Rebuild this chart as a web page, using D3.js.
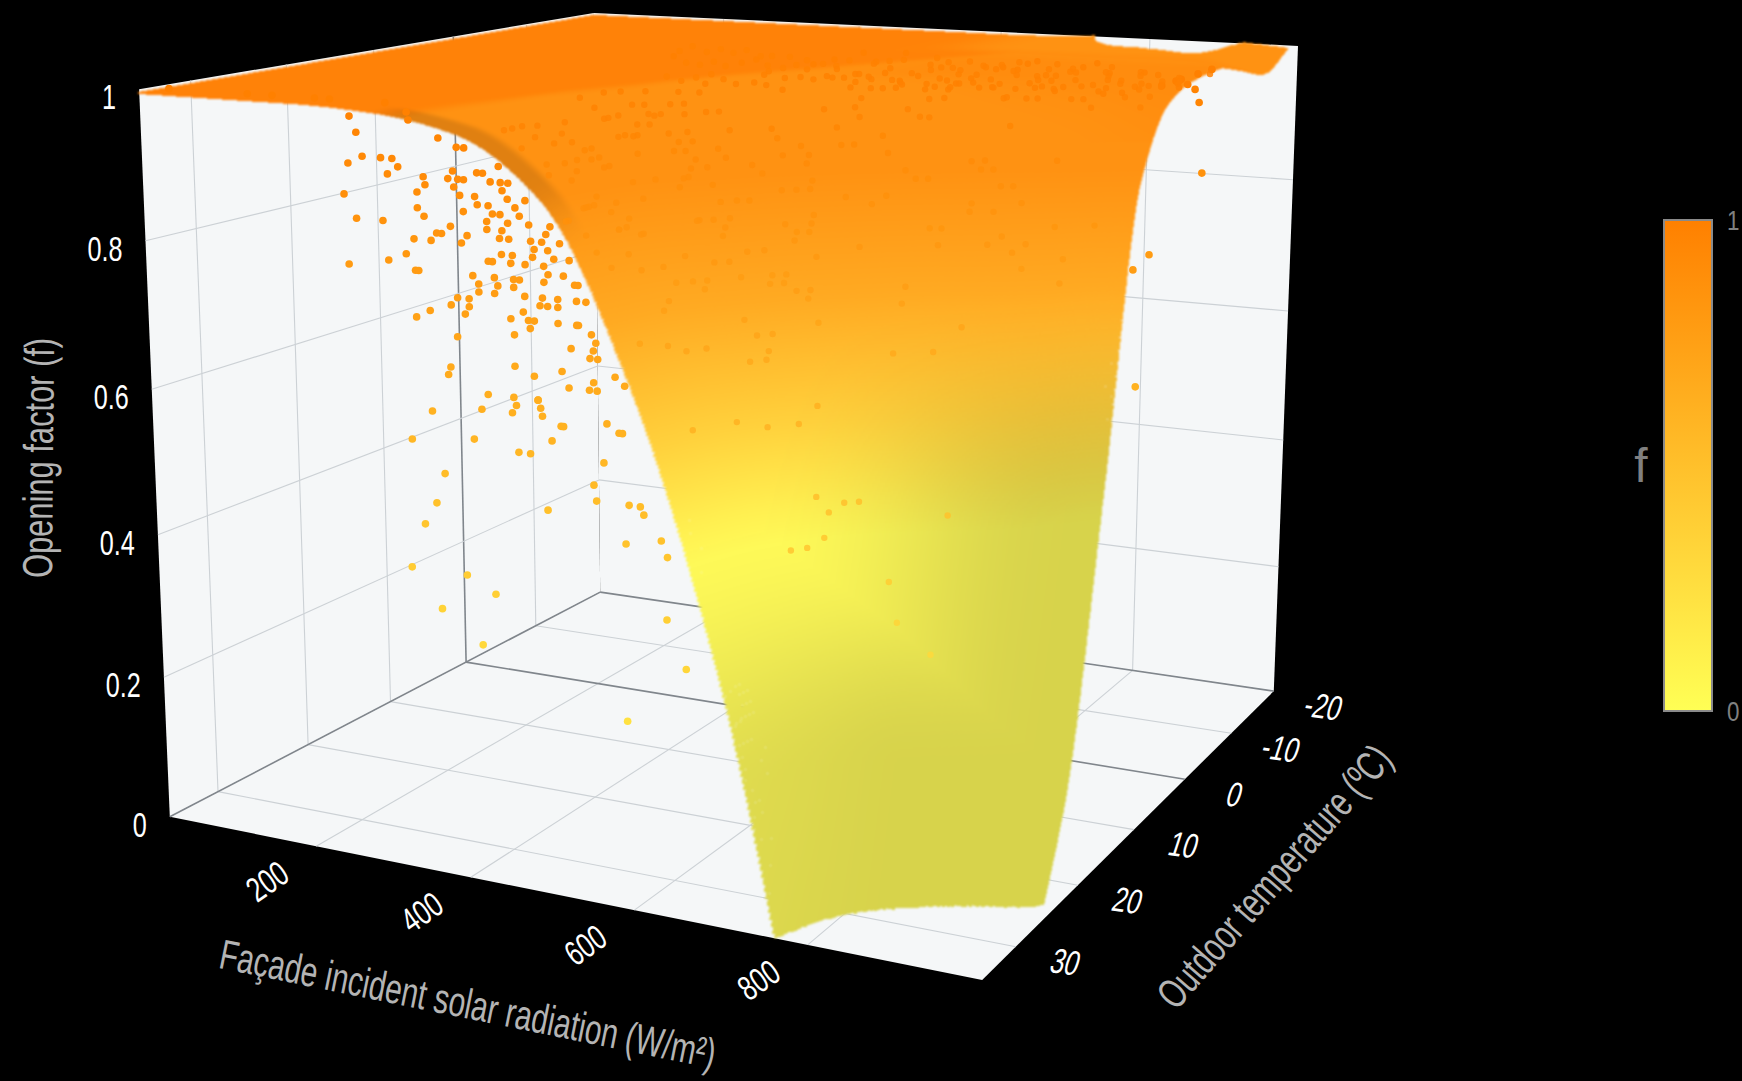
<!DOCTYPE html>
<html><head><meta charset="utf-8">
<style>html,body{margin:0;background:#000;overflow:hidden}svg{display:block}text{font-family:"Liberation Sans",sans-serif}</style>
<script src="https://cdn.jsdelivr.net/npm/d3@7"></script></head><body>
<svg id="c" width="1742" height="1081"></svg>
<script>
const radTicks=[200,400,600,800], tempTicks=[-20,-10,0,10,20,30], fTicks=[0,0.2,0.4,0.6,0.8,1];
const gridRad=[0,100,200,300,400,500,600,700,800,900,975];
const gridTemp=[-20,-15,-10,-5,0,5,10,15,20,25,30,35];
const gridF=[
[.995,.995,.995,.995,.995,.995,.995,.997,1.012,1.002,.995],
[.995,.995,.995,.995,.995,.995,.995,.995,1.002,1.003,.97],
[.995,.995,.995,.995,.995,.995,.995,.995,.995,.998,.985],
[.995,.995,.995,.995,.995,.995,.995,.995,.995,.995,.999],
[.995,.995,.995,.995,.995,.995,.995,.995,.995,.995,.995],
[.995,.995,.995,.995,.995,.995,.995,.995,.995,.99,.975],
[.995,.995,.995,.995,.995,.995,.995,.995,.975,.945,.88],
[.995,.995,.995,.995,.995,.995,.985,.955,.90,.78,.50],
[.995,.995,.995,.995,.995,.985,.945,.86,.69,.46,.14],
[.995,.995,.995,.995,.993,.955,.86,.655,.355,.08,-.06],
[.995,.995,.995,.995,.985,.92,.735,.44,.01,-.33,-.5],
[.995,.995,.995,.99,.97,.895,.675,.32,-.21,-.75,-.95]];
// measured points below the surface, at outdoor temperature 34: [radiation, f]
const lowDots=[[258,.98],[266,.96],[255,.92],[273,.93],[296,.93],[310,.93],[317,.92],[304,.91],[249,.88],[264,.85],[297,.85],[253,.79],[303,.80],[325,.81],[336,.79],[340,.79],[335,.83],[356,.83],[363,.84],[369,.84],[380,.85],[348,.86],
[340,.87],[340,.89],[350,.90],[348,.91],[367,.96],[331,.98],[389,.95],[398,.95],[384,.92],[378,.91],[385,.90],[390,.91],[397,.91],[413,.92],[420,.92],[439,.93],[450,.91],[441,.91],[429,.91],[443,.90],[449,.89],[410,.89],
[413,.88],[396,.87],[392,.89],[426,.88],[431,.87],[440,.87],[449,.86],[458,.88],[470,.89],[463,.87],[474,.86],[424,.86],[424,.85],[442,.85],[439,.84],[450,.84],[441,.82],[454,.82],[393,.83],[400,.84],[425,.81],[430,.81],
[452,.81],[432,.79],[455,.79],[406,.79],[413,.78],[413,.77],[432,.77],[436,.78],[455,.78],[462,.79],[468,.77],[466,.75],[469,.81],[478,.82],[491,.81],[476,.84],[489,.84],[494,.85],[480,.83],[496,.83],[503,.82],[510,.84],
[499,.86],[514,.80],[496,.80],[491,.79],[489,.77],[486,.76],[495,.76],[507,.77],[507,.76],[529,.77],[527,.79],[521,.82],[531,.79],[540,.77],[387,.76],[401,.76],[379,.75],[401,.75],[396,.74],[353,.74],[336,.73],[451,.74],
[455,.72],[472,.74],[479,.74],[474,.73],[507,.74],[531,.74],[529,.74],[386,.71],[546,.73],[551,.72],[522,.71],[548,.71],[544,.70],[553,.70],[377,.67],[374,.66],[455,.68],[478,.67],[511,.68],[519,.66],[573,.68],[584,.67],
[548,.67],[552,.66],[543,.66],[422,.64],[453,.64],[482,.64],[26,1],[129,1],[161,1],[215,1],[234,1],[303,1],[329,.99],[353,.61],[327,.57],[367,.53],[356,.49],[341,.46],[323,.40],[392,.40],[427,.38],[360,.35],
[410,.31],[404,.58],[414,.62],[458,.57],[472,.57],[451,.62],[456,.63],[482,.64],[485,.63],[487,.62],[498,.59],[509,.61],[512,.61],[559,.57],[563,.62],[577,.61],[581,.61],[547,.54],[550,.52],[492,.50],[588,.52],
[601,.52],[605,.51],[625,.48],[584,.47],[632,.46],[631,.38],[653,.32],[584,.24]];
// measured points past the surface edge, at radiation 975: [temperature, f]
const edgeDots=[[7.7,.78],[10.6,.77],[9.6,.61],[-2.2,.86],[6.2,1],[3.5,1],[2.5,1],[-.8,1],[-.3,.98],[-1.2,.96],[-3.6,1],[1.2,.99]];
// measured points lying on the surface: [radiation, temperature, f]
const surfDots=[[592,14.7,.99],[650,15.6,.97],[673,16.5,.95],[615,18.8,.95],[580,20.5,.95],[557,19.4,.97],[546,19.9,.97],[522,20.2,.98],[534,21.4,.97],[464,19.1,.99],[499,18.5,.99],[522,18.2,.99],
[429,20.8,.99],[441,19.9,.99],[429,23.7,.99],[453,24.3,.98],[476,22,.98],[488,21.7,.98],[499,22.3,.97],[511,20.8,.98],[511,22,.97],[511,22.8,.97],[511,23.4,.96],[499,23.7,.96],
[476,23.7,.97],[476,24.9,.97],[476,25.4,.97],[453,27.8,.97],[464,29.2,.96],[441,29.8,.97],[429,30.4,.97],[429,31.5,.97],[429,32.4,.97],[453,32.7,.95],[453,31.2,.96],[464,30.1,.95],
[476,29.2,.95],[488,28.1,.94],[488,28.9,.94],[499,28.3,.93],[511,28.3,.92],[499,29.2,.93],[511,28.9,.92],[488,29.8,.93],[488,31.2,.93],[476,32.1,.93],[499,31.5,.91],[499,30.9,.92],
[488,33,.92],[499,26,.95],[499,25.2,.95],[511,24.9,.95],[511,25.4,.95],[522,26,.93],[534,23.4,.95],[546,23.4,.94],[546,24,.93],[546,22.3,.95],[557,22.8,.94],[557,23.7,.93],
[580,22,.93],[592,22.3,.92],[615,21.4,.91],[627,19.4,.94],[650,18.8,.93],[638,19.9,.92],[662,19.1,.92],[662,19.4,.91],[627,21.4,.90],[569,24.3,.91],[569,23.7,.92],[580,23.4,.91],
[546,26.3,.90],[534,27.8,.90],[569,24.6,.90],[569,25.2,.90],[569,25.7,.89],[592,24,.89],[650,21.4,.88],[662,20.8,.88],[673,20.2,.88],[673,19.9,.89],[604,24.3,.87],
[615,23.4,.87],[627,23.1,.87],[546,27.8,.88],[522,31.2,.88],[522,31.8,.88],[522,32.4,.88],[522,30.9,.89],[522,32.1,.88],[534,29.8,.88],[534,30.4,.87],[546,29.5,.86],[592,25.7,.85],
[615,24.3,.85],[604,25.2,.85],[592,26,.85],[685,21.1,.85],[546,30.7,.85],[557,28.9,.84],[662,22.3,.84],[522,34.1,.87],[615,24.9,.84],[685,21.4,.84],[302,-2.3,.99],[290,-5.5,.99],
[337,-2.6,.99],[337,-4.7,.99],[371,-2.9,.99],[371,-4.9,.99],[418,-1.8,.99],[429,-2.3,.99],[453,-2.3,.99],[488,-.9,.99],[522,.6,.99],[546,1.7,1],[360,4.6,1],[371,4,.99],
[395,4.6,.99],[395,2.6,.99],[429,4.6,.99],[464,6.1,1],[464,4,1],[499,6.1,.99],[499,4,.99],[499,2,.99],[546,4.9,1],[580,6.9,.99],[418,11.6,.99],[453,13.3,.99],
[453,11.3,.99],[453,9.2,.99],[488,11.3,.99],[522,13.3,.99],[534,12.1,.99],[557,13,.99],[557,8.1,.99],[580,8.9,.99],[592,7.5,.99],[743,11.6,.98],[754,10.7,.98],[731,13.3,.97],
[754,13,.96],[743,13,.96],[685,14.7,.96],[673,13.9,.97],[650,11.8,.99],[673,13,.98],[696,16.8,.93],[685,17.3,.93],[720,15.6,.94],[731,16.2,.92],[754,16.5,.90],
[766,16.5,.89],[778,16.2,.89],[813,14.2,.91],[824,13.6,.91],[824,14.2,.90],[836,13.9,.90],[894,11.8,.91],[847,14.2,.88],[859,13.9,.88],[871,14.2,.86],[824,15.6,.86],[824,15.9,.85],
[847,15.3,.85],[743,17.9,.87],[731,18.5,.86],[708,19.4,.87],[789,17.3,.83],[836,11.3,.95],[813,9.2,.98],[813,8.7,.98],[836,8.7,.98],[847,8.4,.98],[882,7.8,.98],[894,7.5,.98],
[905,7.8,.97],[952,6.3,.97],[952,4.6,.98],[546,1.4,.99],[534,-2.1,.99],[546,-2.9,1],[569,-2.1,.99],[580,-2.9,.99],[592,-4.1,1],[604,7.2,.99],[604,4.9,.99],[638,7.2,.99],
[627,3.7,.99],[673,7.2,.99],[685,11.3,.99],[673,11.6,.99],[696,10.7,.99],[673,4.3,.99],[662,.8,.99],[662,-.9,.99],[731,10.7,.99],[731,9.2,.99],[720,5.8,.99],[708,2.3,.99],
[754,10.1,.99],[743,6.9,.99],[754,6.1,.99],[708,-2.3,.99],[754,2.3,1],[778,8.4,.99],[789,7.8,.99],[754,1.1,1],[778,2,1],[766,-1.5,1],[766,-3.2,1],[801,.3,.99],
[813,4.9,.99],[836,6.1,.99],[813,.3,.99],[859,5.8,.99],[813,-2.3,.99],[836,-1.2,1],[836,-3.8,1],[859,-2.6,.99],[882,4,.99],[905,5.2,.99],[905,2.6,.99],[929,5.5,.98],
[929,3.7,.99],[917,0,1],[940,2.9,.99],[940,.3,.99],[963,1.1,.99],[975,2.9,.99],[522,34.4,.87],[534,33.3,.85],[546,30.7,.85],[546,29.8,.85],[557,29.2,.84],
[557,30.7,.82],[546,33.3,.83],[557,32.7,.81],[569,30.4,.80],[580,28.9,.80],[592,27.5,.81],[615,25.2,.83],[615,26.3,.80],[627,25.7,.80],[638,24.6,.81],
[650,23.7,.81],[673,22,.83],[673,22.3,.82],[685,21.7,.83],[731,20.2,.81],[696,22,.80],[638,25.4,.78],[615,27.2,.78],[604,27.8,.78],[615,27.5,.77],[592,28.6,.78],
[662,24.3,.77],[662,24,.78],[673,23.4,.78],[673,23.7,.77],[696,22.8,.76],[685,23.4,.76],[696,23.1,.75],[592,29.5,.76],[592,30.1,.75],[650,26.3,.73],[662,26,.71],[673,25.2,.71],
[708,23.1,.72],[673,25.7,.69],[673,26,.68],[662,26.9,.68],[627,28.6,.70],[615,29.8,.70],[604,30.9,.71],[592,33,.72],[720,24.6,.62],[708,25.7,.60],[685,27.2,.60],
[662,28.6,.61],[638,31.5,.61],[778,21.1,.68],[801,17.1,.83],[801,17.6,.81],[847,16.2,.81],[859,15.6,.82],[871,15.6,.80],[882,15,.81],[882,15.6,.78],[905,13.6,.83],[940,12.1,.83],
[917,13.9,.79],[917,14.4,.76],[778,19.4,.76],[778,19.9,.74],[836,18.5,.71],[813,19.7,.68],[731,26,.51],[743,25.7,.49],[754,24.9,.50],[766,24.3,.50],
[847,21.7,.48],[731,27.2,.45],[743,26.3,.46],[720,28.1,.45],[801,24.3,.40],[813,24.6,.35],[847,24,.31],
[590,-4,.99],[612,1,.99],[625,6,.99],[640,-2,.99],[655,3,.99],[668,-5,.99],[680,8,.99],[693,0,.99],[705,5,.99],[716,-4,.99],[728,2,.99],[740,7,.99],[752,-1,.99],[760,4,.99],[772,-6,.99],[785,6,.99],[795,1,.99],[805,-4,.99],[818,8,.99],[826,3,.99],[840,-6,.99],[848,2,.99],[856,7,.99],[868,-1,.99],[875,5,.99],[888,-4,.99],[896,1,.99],[908,7,.99],[915,-3,.99],[926,2,.99],[935,7,.99],[946,-2,.99],[955,3,.99],[965,-5,.99],[600,5,.99],[618,-6,.99],[633,9,.99],[648,-4,.99],[662,7,.99],[676,-1,.99],[690,9,.99],[700,-3,.99],[712,8,.99],[724,-6,.99],[736,4,.99],[748,9,.99],[770,1,.99],[782,-3,.99],[792,8,.99],[810,3,.99],[822,-2,.99],[834,7,.99],[852,-3,.99],[864,8,.99],[880,1,.99],[900,-2,.99],[920,8,.99],[942,5,.99],[958,0,.99],[470,3,.99],[490,14,.99],[510,8,.99],[530,4,.99],[545,9,.99],[560,3,.99],[575,-1,.99]];
const svg=d3.select('#c');
const sx=d3.scaleLinear().domain([0,990]).range([0,1]);
const sy=d3.scaleLinear().domain([-20,35]).range([0,1]);
const sz=d3.scaleLinear().domain([0,1]).range([0,1]);
const color=d3.scaleLinear().domain([0,1]).range(['#ffff55','#ff8000']);
const calib=[[0,1,0,170,817],[0,0,0,600,592],[1,0,0,1274,691],[1,1,0,982,980],[0,1,1,139,89],[0,0,1,594,13],[1,0,1,1298,46]];
function solve(A,b){const n=b.length;A=A.map((r,i)=>[...r,b[i]]);
 for(let i=0;i<n;i++){let p=i;for(let k=i+1;k<n;k++)if(Math.abs(A[k][i])>Math.abs(A[p][i]))p=k;[A[i],A[p]]=[A[p],A[i]];
  for(let k=0;k<n;k++)if(k!==i){const m=A[k][i]/A[i][i];for(let j=i;j<=n;j++)A[k][j]-=m*A[i][j];}}
 return A.map((r,i)=>r[n]/r[i]);}
const rows=[],rhs=[];
calib.forEach(([u,v,w,X,Y])=>{rows.push([u,v,w,1,0,0,0,0,-u*X,-v*X,-w*X]);rhs.push(X);rows.push([0,0,0,0,u,v,w,1,-u*Y,-v*Y,-w*Y]);rhs.push(Y);});
const ATA=d3.range(11).map(i=>d3.range(11).map(j=>d3.sum(rows,r=>r[i]*r[j])+(i===j?1e-9:0)));
const ATb=d3.range(11).map(i=>d3.sum(rows,(r,k)=>r[i]*rhs[k]));
const P=solve(ATA,ATb);
const cube=(u,v,w)=>{const d=P[8]*u+P[9]*v+P[10]*w+1;return[(P[0]*u+P[1]*v+P[2]*w+P[3])/d,(P[4]*u+P[5]*v+P[6]*w+P[7])/d];};
const proj=(x,t,f)=>cube(sx(x),sy(t),sz(f));
const line=pts=>'M'+pts.map(p=>p.map(n=>n.toFixed(1)).join(',')).join('L');
const xA=0,xB=990,tA=-20,tB=35;
const defs=svg.append('defs');
const blur=(id,s)=>defs.append('filter').attr('id',id).attr('filterUnits','userSpaceOnUse').attr('x',0).attr('y',0).attr('width',1742).attr('height',1081).attr('color-interpolation-filters','sRGB').append('feGaussianBlur').attr('stdDeviation',s);
blur('sf',1);blur('df',.6);
const walls=svg.append('g');
[[[xA,tB,0],[xA,tA,0],[xB,tA,0],[xB,tB,0]],[[xA,tB,0],[xA,tA,0],[xA,tA,1],[xA,tB,1]],[[xA,tA,0],[xB,tA,0],[xB,tA,1],[xA,tA,1]]]
 .forEach(q=>walls.append('path').attr('d',line(q.map(p=>proj(...p)))+'Z').attr('fill','#f5f7f8'));
const gl=(a,b,zero)=>walls.append('path').attr('d',line([proj(...a),proj(...b)])).attr('fill','none').attr('stroke',zero?'#80868c':'#ccd1d5').attr('stroke-width',zero?1.6:1.1);
radTicks.forEach(x=>{gl([x,tA,0],[x,tB,0]);gl([x,tA,0],[x,tA,1]);});
tempTicks.filter(t=>t!==tA).forEach(t=>{gl([xA,t,0],[xB,t,0],t===0);gl([xA,t,0],[xA,t,1],t===0);});
fTicks.filter(f=>f>0&&f<1).forEach(f=>{gl([xA,tA,f],[xB,tA,f]);gl([xA,tA,f],[xA,tB,f]);});
gl([xA,tA,0],[xB,tA,0],true);gl([xA,tA,0],[xA,tB,0],true);
function slopes(xs,ys){const n=xs.length,d=[],m=[];for(let i=0;i<n-1;i++)d.push((ys[i+1]-ys[i])/(xs[i+1]-xs[i]));
 m[0]=d[0];m[n-1]=d[n-2];for(let i=1;i<n-1;i++)m[i]=d[i-1]*d[i]<=0?0:2*d[i-1]*d[i]/(d[i-1]+d[i]);return m;}
function mono(xs,ys,q){const m=slopes(xs,ys);return q.map(v=>{let i=d3.bisectRight(xs,v)-1;i=Math.max(0,Math.min(xs.length-2,i));
 const h=xs[i+1]-xs[i],t=(v-xs[i])/h,t2=t*t,t3=t2*t;return (2*t3-3*t2+1)*ys[i]+(t3-2*t2+t)*h*m[i]+(-2*t3+3*t2)*ys[i+1]+(t3-t2)*h*m[i+1];});}
const Nx=620;
const qx=d3.range(Nx+1).map(i=>975*i/Nx);
const qt=[...d3.range(200).map(i=>-20+25*i/200),...d3.range(1001).map(i=>5+30*i/1000)];
const rowsX=gridF.map(r=>mono(gridRad,r,qx));
const cols=qx.map((_,j)=>mono(gridTemp,rowsX.map(r=>r[j]),qt));
const colorIn=d3.scaleLinear().domain([.46,.5,.6,.75,.9]).range([.04,.12,.36,.67,.86]).clamp(true);
const ss=(a,b,v)=>{const t=Math.max(0,Math.min(1,(v-a)/(b-a)));return t*t*(3-2*t);};
const bandT=d3.scaleLinear().domain([300,400,500,600,700]).range([40,25,12,2,-8]).clamp(true);
const lut=d3.range(1025).map(i=>d3.rgb(color(i/1024)));
function shade(x,t,z,out){
 const a=(1-ss(.18,.5,z))*(.75+.25*ss(680,830,x));
 const b=ss(680,950,x)*(1-ss(.48,.75,z));
 let k=1-.155*Math.max(a,b);
 k*=1-.12*ss(33,34,t)*ss(290,340,x)*(1-ss(480,540,x));
 let inp=colorIn(z);
 if(z>.93){const Tb=bandT(x);
  const m1=(1-ss(Tb-4,Tb+2,t))*(1-ss(550,680,x)*(1-ss(-12,-6,t)));
  const m2=ss(-10,-5,t)*(1-ss(4,11,t))*ss(560,680,x);
  inp+=(.98-inp)*Math.max(m1,.35*m2);}
 const c=lut[Math.round(inp*1024)];out[0]=c.r*k;out[1]=c.g*k;out[2]=c.b*k+6;}
const cv=document.createElement('canvas');cv.width=1742;cv.height=1081;
const ctx=cv.getContext('2d'),img=ctx.createImageData(1742,1081),buf=img.data,rgb=[0,0,0];
const us=qx.map(sx),vs=qt.map(sy);
qt.forEach((t,i)=>{for(let j=0;j<=Nx;j++){const z=cols[j][i];if(z<0||z>1)continue;
 const s=cube(us[j],vs[i],sz(z));shade(qx[j],t,z,rgb);
 const X=Math.round(s[0]),Y=Math.round(s[1]);
 for(let yy=Y-1;yy<=Y;yy++)for(let xx=X-1;xx<=X+1;xx++){if(xx<0||yy<0||xx>=1742||yy>=1081)continue;const o=(yy*1742+xx)*4;buf[o]=rgb[0];buf[o+1]=rgb[1];buf[o+2]=rgb[2];buf[o+3]=255;}
}});
ctx.putImageData(img,0,0);
svg.append('image').attr('x',0).attr('y',0).attr('width',1742).attr('height',1081).attr('href',cv.toDataURL()).attr('filter','url(#sf)');
const offDots=[...lowDots.map(d=>({x:d[0],t:34,f:d[1]})),...edgeDots.map(d=>({x:975,t:d[0],f:d[1]}))];
const onDots=surfDots.map(d=>({x:d[0],t:d[1],f:d[2]}));
const dotG=(data,r,op,flt)=>{const g=svg.append('g');if(flt)g.attr('filter','url(#df)');g.selectAll('circle').data(data).join('circle').attr('cx',d=>proj(d.x,d.t,d.f)[0]).attr('cy',d=>proj(d.x,d.t,d.f)[1]).attr('r',r).attr('fill',d=>color(d.f)).attr('opacity',op);};
dotG(offDots,3.8,1,false);dotG(onDots,3.2,.85,true);
const TS=.72;
const T=svg.append('g').attr('fill','#fff').attr('font-size',35);
T.selectAll('.z').data(fTicks).join('text').attr('text-anchor','end').attr('transform',f=>{const p=proj(xA,tB,f);return `translate(${p[0]-23},${p[1]+20}) scale(${TS},1)`;}).text(d=>d);
T.selectAll('.x').data(radTicks).join('text').attr('text-anchor','middle').attr('transform',x=>{const p=proj(x,tB,0);return `translate(${p[0]-42},${p[1]+45}) rotate(-35) scale(${TS},1)`;}).text(d=>d);
T.selectAll('.t').data(tempTicks).join('text').attr('text-anchor','middle').attr('transform',t=>{const p=proj(xB,t,0);return `translate(${p[0]+46},${p[1]+27}) rotate(8) skewX(-10) scale(${TS},1)`;}).text(d=>d);
const G=svg.append('g').attr('fill','#b4b4b4').attr('font-size',42);
G.append('text').attr('text-anchor','middle').attr('transform',`translate(53,458) rotate(-89.5) scale(.735,1)`).text('Opening factor (f)');
G.append('text').attr('text-anchor','middle').attr('transform',`translate(465,1018) rotate(11.5) scale(.71,1)`).text('Façade incident solar radiation (W/m²)');
G.append('text').attr('text-anchor','middle').attr('transform',`translate(1285,886) rotate(-49) scale(.70,1)`).text('Outdoor temperature (ºC)');
const lg=defs.append('linearGradient').attr('id','cb').attr('x1',0).attr('x2',0).attr('y1',1).attr('y2',0);
d3.range(0,1.01,.25).forEach(v=>lg.append('stop').attr('offset',v).attr('stop-color',color(v)));
const cbY=d3.scaleLinear().domain([0,1]).range([711,220]);
svg.append('rect').attr('x',1664).attr('y',cbY(1)).attr('width',48).attr('height',cbY(0)-cbY(1)).attr('fill','url(#cb)').attr('stroke','#8a8a8a').attr('stroke-width',2);
const C=svg.append('g').attr('fill','#808080').attr('font-size',28);
C.selectAll('text').data([0,1]).join('text').attr('transform',d=>`translate(1727,${cbY(d)+10}) scale(.8,1)`).text(d=>d);
C.append('text').attr('x',1641).attr('y',482).attr('text-anchor','middle').attr('font-size',48).text('f');
</script></body></html>
